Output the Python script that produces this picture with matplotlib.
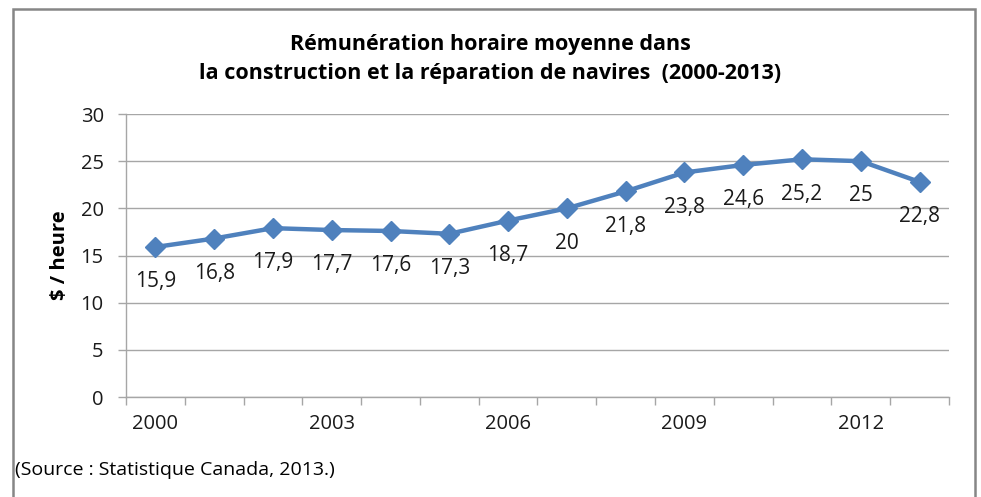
import matplotlib
matplotlib.use("Agg")
import matplotlib.pyplot as plt
from matplotlib.patches import Rectangle

years = [2000, 2001, 2002, 2003, 2004, 2005, 2006, 2007, 2008, 2009, 2010, 2011, 2012, 2013]
wages = [15.9, 16.8, 17.9, 17.7, 17.6, 17.3, 18.7, 20, 21.8, 23.8, 24.6, 25.2, 25, 22.8]
shown_years = [2000, 2003, 2006, 2009, 2012]
y_ticks = [0, 5, 10, 15, 20, 25, 30]

plt.rcParams['font.family'] = ['Open Sans', 'DejaVu Sans']

fig = plt.figure(figsize=(9.81, 4.97), dpi=100)
ax = fig.add_axes([0.1284, 0.2012, 0.8390, 0.5694])

x = list(range(len(years)))
ax.plot(x, wages, color="#4F81BD", linewidth=3.2, marker="D", markersize=10.5,
        markerfacecolor="#4F81BD", markeredgecolor="#4F81BD", zorder=3)

for xi, v in zip(x, wages):
    txt = f"{v:g}".replace(".", ",")
    ax.annotate(txt, (xi, v), xytext=(0, -25), textcoords="offset points",
                ha="center", va="center", fontsize=15, color="#1a1a1a")

ax.set_xlim(-0.5, len(years) - 0.5)
ax.set_ylim(0, 30)
ax.set_yticks(y_ticks)
ax.yaxis.grid(True, color="#A6A6A6", linewidth=1)
ax.set_axisbelow(True)

major = [years.index(y) for y in shown_years]
ax.set_xticks(major)
ax.set_xticklabels([str(y) for y in shown_years])
ax.set_xticks([i - 0.5 for i in range(len(years) + 1)], minor=True)
ax.tick_params(axis="x", which="major", length=0, pad=12, labelsize=14.5, labelcolor="#1a1a1a")
ax.tick_params(axis="x", which="minor", length=6, color="#A6A6A6", width=1)
ax.tick_params(axis="y", length=6, color="#A6A6A6", width=1, pad=10, labelsize=14.5,
               labelcolor="#1a1a1a")

for s in ["top", "right"]:
    ax.spines[s].set_visible(False)
for s in ["left", "bottom"]:
    ax.spines[s].set_color("#A6A6A6")
    ax.spines[s].set_linewidth(1)

ax.set_ylabel("$ / heure", fontsize=14.5, fontweight="bold", labelpad=8)

fig.text(0.5, 0.91, "Rémunération horaire moyenne dans", ha="center", va="center",
         fontsize=15.5, fontweight="bold")
fig.text(0.5, 0.853, "la construction et la réparation de navires  (2000-2013)",
         ha="center", va="center", fontsize=15.5, fontweight="bold")
fig.text(0.015, 0.054, "(Source : Statistique Canada, 2013.)", ha="left", va="center",
         fontsize=14)

border = Rectangle((13 / 981, -0.05), (975 - 13) / 981, 1.05 - 9 / 497,
                   transform=fig.transFigure, fill=False, edgecolor="#868686",
                   linewidth=1.8, clip_on=False)
fig.patches.append(border)

fig.savefig("out.png", dpi=100)
